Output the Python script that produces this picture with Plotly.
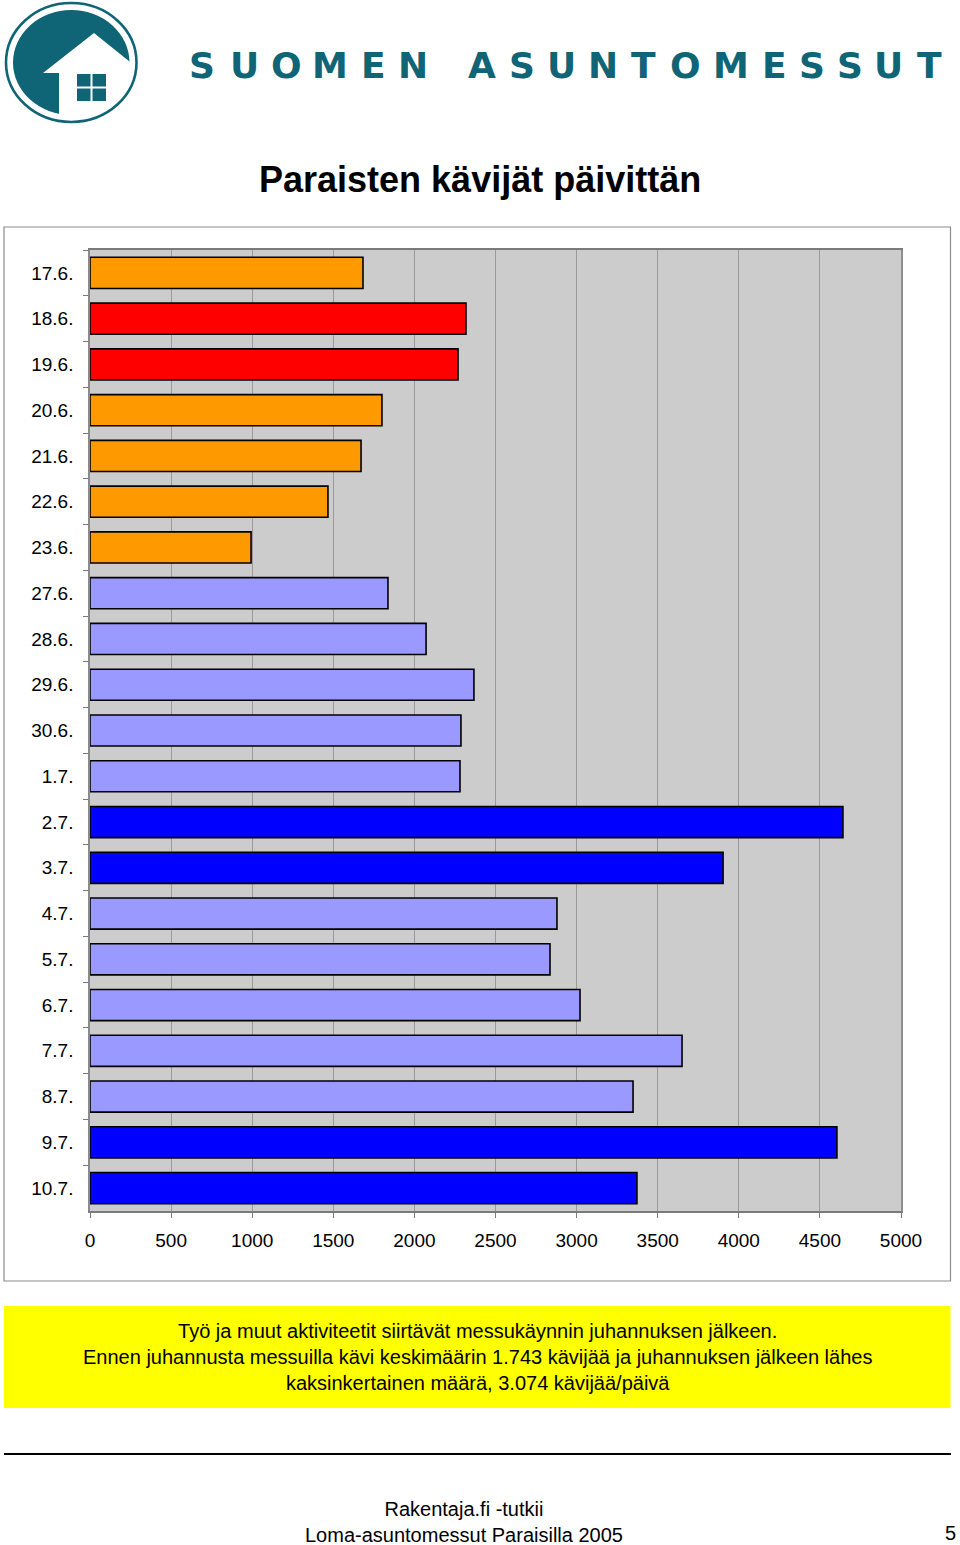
import plotly.graph_objects as go

# ---------------- data ----------------
dates = ["17.6.", "18.6.", "19.6.", "20.6.", "21.6.", "22.6.", "23.6.",
         "27.6.", "28.6.", "29.6.", "30.6.", "1.7.", "2.7.", "3.7.",
         "4.7.", "5.7.", "6.7.", "7.7.", "8.7.", "9.7.", "10.7."]
visitors = [1683, 2318, 2269, 1800, 1671, 1467, 993,
            1837, 2072, 2367, 2287, 2281, 4642, 3903,
            2879, 2836, 3021, 3650, 3348, 4605, 3372]
day_group = ["before", "juhannus", "juhannus", "before", "before", "before", "before",
             "after", "after", "after", "after", "after", "weekend", "weekend",
             "after", "after", "after", "after", "after", "weekend", "weekend"]
group_colors = {"before": "#FF9900", "juhannus": "#FF0000",
                "after": "#9999FF", "weekend": "#0000FF"}
x_ticks = [0, 500, 1000, 1500, 2000, 2500, 3000, 3500, 4000, 4500, 5000]

title_text = "Paraisten kävijät päivittän"
brand_words = ["SUOMEN", "ASUNTOMESSUT"]
note_lines = ["Työ ja muut aktiviteetit siirtävät messukäynnin juhannuksen jälkeen.",
              "Ennen juhannusta messuilla kävi keskimäärin 1.743 kävijää ja juhannuksen jälkeen lähes",
              "kaksinkertainen määrä, 3.074 kävijää/päivä"]
footer_lines = ["Rakentaja.fi -tutkii", "Loma-asuntomessut Paraisilla 2005"]
page_number = "5"

# ---------------- geometry ----------------
W, H = 960, 1545
ML, MR, MT, MB = 90, 59, 250, 334
PW, PH = W - ML - MR, H - MT - MB


def px(x):
    return (x - ML) / PW


def py(y):
    return (H - MB - y) / PH


TEAL = "#0F6475"
FONT = "Liberation Sans, Arial, sans-serif"

fig = go.Figure()
fig.add_trace(go.Bar(
    y=dates, x=visitors, orientation="h",
    marker=dict(color=[group_colors[g] for g in day_group],
                line=dict(color="#000000", width=1.6)),
    hoverinfo="x+y",
))

shapes = []
annotations = []

# chart frame
shapes.append(dict(type="rect", xref="paper", yref="paper",
                   x0=px(4), x1=px(950.5), y0=py(227), y1=py(1281),
                   line=dict(color="#8C8C8C", width=1.2), fillcolor="rgba(0,0,0,0)", layer="below"))
# plot-area right shadow
shapes.append(dict(type="line", xref="paper", yref="paper",
                   x0=px(902), x1=px(902), y0=py(251), y1=py(1211),
                   line=dict(color="#8F8F8F", width=2)))

# yellow note box
shapes.append(dict(type="rect", xref="paper", yref="paper",
                   x0=px(4), x1=px(950.5), y0=py(1306), y1=py(1408),
                   line=dict(width=0), fillcolor="#FFFF00", layer="below"))
# separator line
shapes.append(dict(type="line", xref="paper", yref="paper",
                   x0=px(4), x1=px(951), y0=py(1454), y1=py(1454),
                   line=dict(color="#000000", width=2)))

# ---- logo ----
shapes.append(dict(type="circle", xref="paper", yref="paper",
                   x0=px(13), x1=px(129.5), y0=py(10), y1=py(115),
                   line=dict(width=0), fillcolor=TEAL))
house = [(94, 33), (43, 73), (59, 73), (59, 126), (140, 126), (140, 70)]
path = "M " + " L ".join(f"{px(a)},{py(b)}" for a, b in house) + " Z"
shapes.append(dict(type="path", xref="paper", yref="paper", path=path,
                   line=dict(width=0), fillcolor="#FFFFFF"))
shapes.append(dict(type="circle", xref="paper", yref="paper",
                   x0=px(6), x1=px(136.5), y0=py(3), y1=py(122),
                   line=dict(color=TEAL, width=2.6), fillcolor="rgba(0,0,0,0)"))
for (a0, a1) in [(77, 90.5), (92.5, 106)]:
    for (b0, b1) in [(74, 86.5), (88.5, 101)]:
        shapes.append(dict(type="rect", xref="paper", yref="paper",
                           x0=px(a0), x1=px(a1), y0=py(b0), y1=py(b1),
                           line=dict(width=0), fillcolor=TEAL))

# brand letters (letter-spaced)
letter_centers = [[202, 244, 286, 330, 373, 413],
                  [482, 522, 561, 603, 643, 685, 731, 774, 812, 850, 888, 929]]
for word, centers in zip(brand_words, letter_centers):
    for ch, cx in zip(word, centers):
        annotations.append(dict(text=ch, x=px(cx), y=py(65), xref="paper", yref="paper",
                                xanchor="center", yanchor="middle", showarrow=False,
                                font=dict(family="DejaVu Sans, sans-serif", size=36,
                                          color=TEAL, weight="bold")))

# title
annotations.append(dict(text=f"<b>{title_text}</b>", x=px(480), y=py(180),
                        xref="paper", yref="paper", xanchor="center", yanchor="middle",
                        showarrow=False, font=dict(family=FONT, size=36, color="#000000")))

# note text
annotations.append(dict(text="<br>".join(note_lines), x=px(477), y=py(1357),
                        xref="paper", yref="paper", xanchor="center", yanchor="middle",
                        align="center", showarrow=False,
                        font=dict(family=FONT, size=20, color="#000000")))

# footer
annotations.append(dict(text="<br>".join(footer_lines), x=px(464), y=py(1522),
                        xref="paper", yref="paper", xanchor="center", yanchor="middle",
                        align="center", showarrow=False,
                        font=dict(family=FONT, size=20, color="#000000")))
annotations.append(dict(text=page_number, x=px(950), y=py(1533),
                        xref="paper", yref="paper", xanchor="center", yanchor="middle",
                        showarrow=False, font=dict(family=FONT, size=20, color="#000000")))

fig.update_layout(
    width=W, height=H,
    margin=dict(l=ML, r=MR, t=MT, b=MB, pad=0),
    paper_bgcolor="#FFFFFF", plot_bgcolor="#CCCCCC",
    bargap=0.32, showlegend=False,
    shapes=shapes, annotations=annotations,
    font=dict(family=FONT, size=19, color="#000000"),
)
fig.update_xaxes(range=[0, 5000], tickvals=x_ticks, ticktext=[str(v) for v in x_ticks],
                 showgrid=True, gridcolor="#9A9A9A", gridwidth=1,
                 showline=True, linecolor="#7A7A7A", linewidth=1.5, mirror=True,
                 ticks="outside", ticklen=5, tickcolor="#7A7A7A",
                 ticklabelstandoff=6, tickfont=dict(size=19), zeroline=False, fixedrange=True)
fig.update_yaxes(autorange="reversed", type="category", tickson="boundaries",
                 showline=True, linecolor="#8A8A8A", linewidth=1.5, mirror=True,
                 ticks="outside", ticklen=5, tickcolor="#7A7A7A",
                 ticklabelstandoff=11, tickfont=dict(size=19), showgrid=False, fixedrange=True)

fig.write_html("out.html", config={"displayModeBar": False},
               post_script="document.body.style.margin='0';document.body.style.overflow='hidden';")
